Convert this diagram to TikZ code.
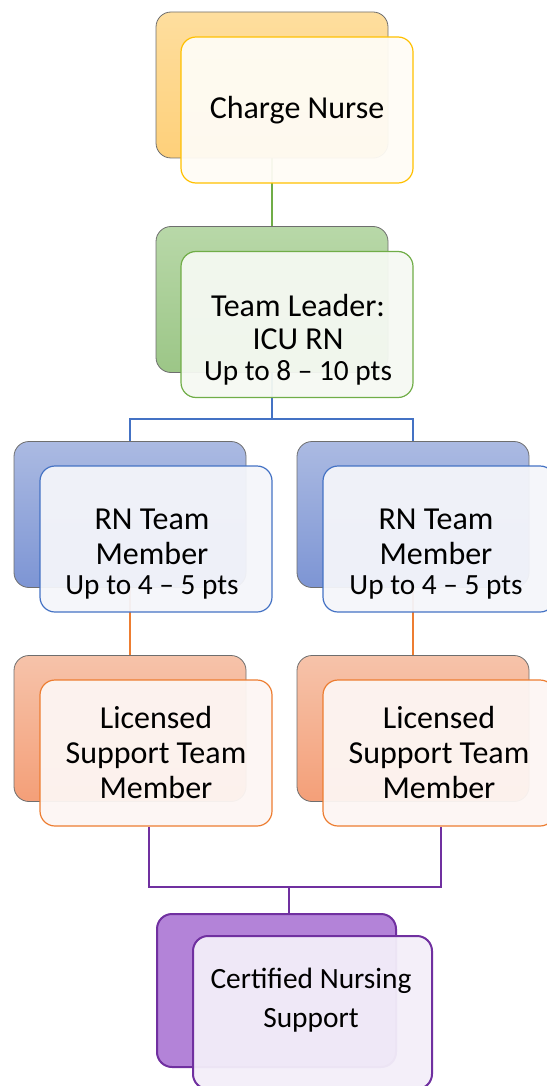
\documentclass[tikz,border=0pt]{standalone}
\usepackage{fontspec}
\setmainfont{Carlito}
\usetikzlibrary{calc}
\pgfdeclarelayer{bg}
\pgfsetlayers{bg,main}
\definecolor{ytop}{HTML}{FEDE9E}\definecolor{ybot}{HTML}{FED07A}\definecolor{yline}{HTML}{FFC000}\definecolor{yfill}{HTML}{FFFCF5}
\definecolor{gtop}{HTML}{B8D8A8}\definecolor{gbot}{HTML}{9CC687}\definecolor{gline}{HTML}{70AD47}\definecolor{gfill}{HTML}{F5F9F2}
\definecolor{btop}{HTML}{ABBAE2}\definecolor{bbot}{HTML}{7D95D4}\definecolor{bline}{HTML}{4472C4}\definecolor{bfill}{HTML}{F4F5FA}
\definecolor{otop}{HTML}{F6C3AA}\definecolor{obot}{HTML}{F49F78}\definecolor{oline}{HTML}{ED7D31}\definecolor{ofill}{HTML}{FDF6F3}
\definecolor{pback}{HTML}{B383D8}\definecolor{pline}{HTML}{7030A0}\definecolor{pfill}{HTML}{F3EEF9}
\definecolor{edgegray}{HTML}{6E6E6E}
\newcommand{\smallpts}{\fontsize{29.3}{31}\selectfont}
\tikzset{
  backbox/.style={rounded corners=15pt, minimum width=232pt, minimum height=146pt, inner sep=0pt, draw=edgegray, line width=0.8pt},
  frontbox/.style={rounded corners=15pt, minimum width=232pt, minimum height=146pt, inner sep=0pt, line width=1.2pt, fill opacity=0.95},
  lbl/.style={align=center, inner sep=0pt, font=\fontsize{32}{35}\selectfont},
  conn/.style={line width=2pt},
}
\begin{document}
\begin{tikzpicture}[x=1pt,y=-1pt]
\useasboundingbox (0,0) rectangle (546,1086);
% Charge nurse
\node[backbox, top color=ytop, bottom color=ybot] (cnB) at (272,85) {};
\node[frontbox, draw=yline, fill=yfill] (cnF) at (297,110) {};
\node[lbl] (cnT) at (297,110) {Charge Nurse};
% Team leader
\node[backbox, top color=gtop, bottom color=gbot] (tlB) at (272,299.5) {};
\node[frontbox, draw=gline, fill=gfill] (tlF) at (297,324.5) {};
\node[lbl, font=\fontsize{32}{33}\selectfont] (tlT) at (298,340) {Team Leader:\\ICU RN\\[-2pt]{\smallpts Up to 8 -- 10 pts}};
% RN team members
\node[backbox, top color=btop, bottom color=bbot] (rnB1) at (130,514.5) {};
\node[frontbox, draw=bline, fill=bfill] (rnF1) at (156,539) {};
\node[lbl] (rnT1) at (152,554) {RN Team\\Member\\[-5pt]{\smallpts Up to 4 -- 5 pts}};
\node[backbox, top color=btop, bottom color=bbot] (rnB2) at (413,514.5) {};
\node[frontbox, draw=bline, fill=bfill] (rnF2) at (439,539) {};
\node[lbl] (rnT2) at (436,554) {RN Team\\Member\\[-5pt]{\smallpts Up to 4 -- 5 pts}};
% Licensed support
\node[backbox, top color=otop, bottom color=obot] (lsB1) at (130,728.5) {};
\node[frontbox, draw=oline, fill=ofill] (lsF1) at (156,753) {};
\node[lbl] (lsT1) at (156,752) {Licensed\\Support Team\\Member};
\node[backbox, top color=otop, bottom color=obot] (lsB2) at (413,728.5) {};
\node[frontbox, draw=oline, fill=ofill] (lsF2) at (439,753) {};
\node[lbl] (lsT2) at (439,752) {Licensed\\Support Team\\Member};
% Certified nursing support
\node[backbox, draw=pline, line width=2pt, fill=pback, minimum width=239pt, minimum height=153pt] (cnsB) at (276.5,990.5) {};
\node[frontbox, draw=pline, line width=2pt, fill=pfill, minimum width=239pt, minimum height=153pt] (cnsF) at (312.5,1012.5) {};
\node[lbl, font=\fontsize{29.4}{39}\selectfont] (cnsT) at (311,1000) {Certified Nursing\\Support};
% connectors
\coordinate (bj) at (272,419);
\coordinate (pj) at (289,887);
\begin{pgfonlayer}{bg}
\draw[conn, gline] (cnB.south) -- (tlB.north);
\draw[conn, bline, line width=2.5pt] (tlB.south) -- (bj);
\draw[conn, bline, line width=2.5pt] (rnB1.north) |- (bj) -| (rnB2.north);
\draw[conn, oline] (rnB1.south) -- (lsB1.north);
\draw[conn, oline] (rnB2.south) -- (lsB2.north);
\draw[pline, line width=1.2pt] ([xshift=-7pt]lsF1.south) |- (pj) -| ([xshift=2pt]lsF2.south);
\draw[pline, line width=1.2pt] (pj) -- (pj |- cnsB.north);
\end{pgfonlayer}
\end{tikzpicture}
\end{document}
